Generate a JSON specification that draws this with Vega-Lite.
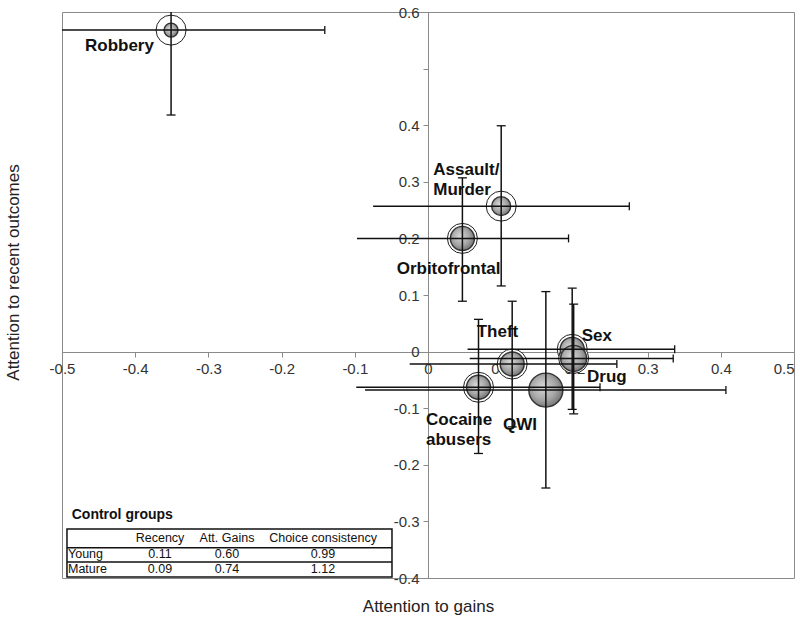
{
  "$schema": "https://vega.github.io/schema/vega-lite/v6.json",
  "width": 732,
  "height": 566,
  "autosize": {"type": "none"},
  "padding": {"left": 62, "top": 12, "right": 6, "bottom": 52},
  "background": "white",
  "config": {
    "font": "Liberation Sans",
    "view": {"stroke": "#8a8a8a", "strokeWidth": 1},
    "axis": {"grid": false}
  },
  "datasets": {
    "points": [
      {"name": "Robbery", "x": -0.351, "y": 0.568, "xlo": -0.561, "xhi": -0.141, "ylo": 0.418, "yhi": 0.718, "bubble": 14},
      {"name": "Assault/Murder", "x": 0.100, "y": 0.257, "xlo": -0.075, "xhi": 0.275, "ylo": 0.116, "yhi": 0.399, "bubble": 19},
      {"name": "Orbitofrontal", "x": 0.047, "y": 0.200, "xlo": -0.097, "xhi": 0.192, "ylo": 0.089, "yhi": 0.307, "bubble": 24},
      {"name": "Theft", "x": 0.115, "y": -0.022, "xlo": -0.025, "xhi": 0.258, "ylo": -0.133, "yhi": 0.089, "bubble": 24},
      {"name": "Sex", "x": 0.197, "y": 0.004, "xlo": 0.054, "xhi": 0.337, "ylo": -0.102, "yhi": 0.112, "bubble": 24},
      {"name": "Drug", "x": 0.199, "y": -0.012, "xlo": 0.057, "xhi": 0.335, "ylo": -0.110, "yhi": 0.084, "bubble": 26},
      {"name": "Cocaine abusers", "x": 0.069, "y": -0.063, "xlo": -0.098, "xhi": 0.235, "ylo": -0.180, "yhi": 0.057, "bubble": 24},
      {"name": "QWI", "x": 0.161, "y": -0.068, "xlo": -0.086, "xhi": 0.407, "ylo": -0.241, "yhi": 0.106, "bubble": 34}
    ],
    "labels": [
      {"label": "Robbery", "lx": -0.4686, "ly": 0.5398},
      {"label": "Assault/", "lx": 0.0072, "ly": 0.3216},
      {"label": "Murder", "lx": 0.0072, "ly": 0.2862},
      {"label": "Orbitofrontal", "lx": -0.0428, "ly": 0.1464},
      {"label": "Theft", "lx": 0.0665, "ly": 0.0342},
      {"label": "Sex", "lx": 0.2100, "ly": 0.0283},
      {"label": "Drug", "lx": 0.2172, "ly": -0.0455},
      {"label": "Cocaine", "lx": -0.0027, "ly": -0.1209},
      {"label": "abusers", "lx": -0.0027, "ly": -0.1563},
      {"label": "QWI", "lx": 0.1025, "ly": -0.1297}
    ],
    "tableText": [
      {"kind": "title", "text": "Control groups", "tx": -0.4867, "ty": -0.289},
      {"kind": "cell", "text": "Recency", "tx": -0.3661, "ty": -0.3287},
      {"kind": "cell", "text": "Att. Gains", "tx": -0.2746, "ty": -0.3287},
      {"kind": "cell", "text": "Choice consistency", "tx": -0.1434, "ty": -0.3287},
      {"kind": "rowname", "text": "Young", "tx": -0.4918, "ty": -0.3570},
      {"kind": "cell", "text": "0.11", "tx": -0.3661, "ty": -0.3570},
      {"kind": "cell", "text": "0.60", "tx": -0.2746, "ty": -0.3570},
      {"kind": "cell", "text": "0.99", "tx": -0.1434, "ty": -0.3570},
      {"kind": "rowname", "text": "Mature", "tx": -0.4918, "ty": -0.3846},
      {"kind": "cell", "text": "0.09", "tx": -0.3661, "ty": -0.3846},
      {"kind": "cell", "text": "0.74", "tx": -0.2746, "ty": -0.3846},
      {"kind": "cell", "text": "1.12", "tx": -0.1434, "ty": -0.3846}
    ],
    "tableBox": [
      {"bx1": -0.4932, "bx2": -0.0492, "by1": -0.3133, "by2": -0.3982}
    ],
    "tableLines": [
      {"rx1": -0.4932, "rx2": -0.0492, "ry": -0.3464},
      {"rx1": -0.4932, "rx2": -0.0492, "ry": -0.3717}
    ]
  },
  "layer": [
    {
      "data": {"name": "points"},
      "transform": [{"filter": "datum.name !== 'QWI'"}],
      "mark": {"type": "point", "shape": "circle", "filled": true, "fill": "white", "stroke": "#222", "strokeWidth": 1, "size": 900, "opacity": 1},
      "encoding": {
        "x": {
          "field": "x", "type": "quantitative",
          "scale": {"domain": [-0.5, 0.5], "nice": false, "zero": false},
          "axis": {
            "orient": "bottom", "offset": -226,
            "values": [-0.5, -0.4, -0.3, -0.2, -0.1, 0, 0.1, 0.2, 0.3, 0.4, 0.5],
            "labelExpr": "'' + round(datum.value*10)/10",
            "labelAlign": {"condition": {"test": "datum.value >= 0.45", "value": "right"}, "value": "center"},
            "labelFontSize": 15, "labelColor": "#333", "labelPadding": 4,
            "labelFlush": false, "labelOverlap": false, "labelBound": false,
            "tickSize": 5, "tickColor": "#8a8a8a", "domainColor": "#8a8a8a",
            "title": "Attention to gains", "titleFontSize": 17, "titleFontWeight": "normal",
            "titleColor": "#222", "titleY": 254, "titleBaseline": "middle", "grid": false
          }
        },
        "y": {
          "field": "y", "type": "quantitative",
          "scale": {"domain": [-0.4, 0.6], "nice": false, "zero": false},
          "axis": {
            "orient": "left", "offset": -366,
            "values": [-0.4, -0.3, -0.2, -0.1, 0, 0.1, 0.2, 0.3, 0.4, 0.5, 0.6],
            "labelExpr": "abs(datum.value - 0.5) < 0.01 ? '' : '' + round(datum.value*10)/10",
            "labelFontSize": 15, "labelColor": "#333", "labelPadding": 4,
            "labelFlush": false, "labelOverlap": false, "labelBound": false,
            "tickSize": 5, "tickColor": "#8a8a8a", "domainColor": "#8a8a8a",
            "title": "Attention to recent outcomes", "titleFontSize": 17, "titleFontWeight": "normal",
            "titleColor": "#222", "titleX": -415, "titleY": 260, "titleAngle": -90,
            "titleAlign": "center", "titleBaseline": "middle", "grid": false
          }
        }
      }
    },
    {
      "data": {"name": "points"},
      "mark": {
        "type": "point", "shape": "circle", "filled": true, "opacity": 1,
        "fill": {
          "gradient": "radial", "x1": 0.4, "y1": 0.4, "r1": 0, "x2": 0.45, "y2": 0.45, "r2": 0.6,
          "stops": [
            {"offset": 0, "color": "#d8d8d8"},
            {"offset": 0.6, "color": "#a6a6a6"},
            {"offset": 1, "color": "#6e6e6e"}
          ]
        },
        "stroke": "#333", "strokeWidth": 1.4
      },
      "encoding": {
        "x": {"field": "x", "type": "quantitative", "scale": {"domain": [-0.5, 0.5], "nice": false, "zero": false}},
        "y": {"field": "y", "type": "quantitative", "scale": {"domain": [-0.4, 0.6], "nice": false, "zero": false}},
        "size": {"field": "bubble", "type": "quantitative", "scale": {"type": "pow", "exponent": 2, "domain": [0, 40], "range": [0, 1600]}, "legend": null}
      }
    },
    {
      "data": {"name": "labels"},
      "mark": {"type": "text", "align": "left", "baseline": "middle", "fontSize": 17, "fontWeight": "bold", "color": "#111"},
      "encoding": {
        "x": {"field": "lx", "type": "quantitative", "scale": {"domain": [-0.5, 0.5], "nice": false, "zero": false}},
        "y": {"field": "ly", "type": "quantitative", "scale": {"domain": [-0.4, 0.6], "nice": false, "zero": false}},
        "text": {"field": "label"}
      }
    },
    {
      "data": {"name": "points"},
      "mark": {"type": "rule", "color": "#111", "strokeWidth": 1.5, "clip": true},
      "encoding": {
        "x": {"field": "xlo", "type": "quantitative", "scale": {"domain": [-0.5, 0.5], "nice": false, "zero": false}},
        "x2": {"field": "xhi"},
        "y": {"field": "y", "type": "quantitative", "scale": {"domain": [-0.4, 0.6], "nice": false, "zero": false}}
      }
    },
    {
      "data": {"name": "points"},
      "mark": {"type": "rule", "color": "#111", "strokeWidth": 1.5, "clip": true},
      "encoding": {
        "x": {"field": "x", "type": "quantitative", "scale": {"domain": [-0.5, 0.5], "nice": false, "zero": false}},
        "y": {"field": "ylo", "type": "quantitative", "scale": {"domain": [-0.4, 0.6], "nice": false, "zero": false}},
        "y2": {"field": "yhi"}
      }
    },
    {
      "data": {"name": "points"},
      "mark": {"type": "tick", "orient": "vertical", "size": 8, "thickness": 1.3, "color": "#111", "opacity": 1, "clip": true},
      "encoding": {
        "x": {"field": "xhi", "type": "quantitative", "scale": {"domain": [-0.5, 0.5], "nice": false, "zero": false}},
        "y": {"field": "y", "type": "quantitative", "scale": {"domain": [-0.4, 0.6], "nice": false, "zero": false}}
      }
    },
    {
      "data": {"name": "points"},
      "mark": {"type": "tick", "orient": "horizontal", "size": 9, "thickness": 1.3, "color": "#111", "opacity": 1, "clip": true},
      "encoding": {
        "x": {"field": "x", "type": "quantitative", "scale": {"domain": [-0.5, 0.5], "nice": false, "zero": false}},
        "y": {"field": "ylo", "type": "quantitative", "scale": {"domain": [-0.4, 0.6], "nice": false, "zero": false}}
      }
    },
    {
      "data": {"name": "points"},
      "mark": {"type": "tick", "orient": "horizontal", "size": 9, "thickness": 1.3, "color": "#111", "opacity": 1, "clip": true},
      "encoding": {
        "x": {"field": "x", "type": "quantitative", "scale": {"domain": [-0.5, 0.5], "nice": false, "zero": false}},
        "y": {"field": "yhi", "type": "quantitative", "scale": {"domain": [-0.4, 0.6], "nice": false, "zero": false}}
      }
    },
    {
      "data": {"name": "tableBox"},
      "mark": {"type": "rect", "fill": "white", "stroke": "#111", "strokeWidth": 1.5},
      "encoding": {
        "x": {"field": "bx1", "type": "quantitative", "scale": {"domain": [-0.5, 0.5], "nice": false, "zero": false}},
        "x2": {"field": "bx2"},
        "y": {"field": "by1", "type": "quantitative", "scale": {"domain": [-0.4, 0.6], "nice": false, "zero": false}},
        "y2": {"field": "by2"}
      }
    },
    {
      "data": {"name": "tableLines"},
      "mark": {"type": "rule", "color": "#111", "strokeWidth": 1.5},
      "encoding": {
        "x": {"field": "rx1", "type": "quantitative", "scale": {"domain": [-0.5, 0.5], "nice": false, "zero": false}},
        "x2": {"field": "rx2"},
        "y": {"field": "ry", "type": "quantitative", "scale": {"domain": [-0.4, 0.6], "nice": false, "zero": false}}
      }
    },
    {
      "data": {"name": "tableText"},
      "transform": [{"filter": "datum.kind === 'cell'"}],
      "mark": {"type": "text", "align": "center", "baseline": "middle", "fontSize": 12.5, "color": "#111"},
      "encoding": {
        "x": {"field": "tx", "type": "quantitative", "scale": {"domain": [-0.5, 0.5], "nice": false, "zero": false}},
        "y": {"field": "ty", "type": "quantitative", "scale": {"domain": [-0.4, 0.6], "nice": false, "zero": false}},
        "text": {"field": "text"}
      }
    },
    {
      "data": {"name": "tableText"},
      "transform": [{"filter": "datum.kind === 'rowname'"}],
      "mark": {"type": "text", "align": "left", "baseline": "middle", "fontSize": 12.5, "color": "#111"},
      "encoding": {
        "x": {"field": "tx", "type": "quantitative", "scale": {"domain": [-0.5, 0.5], "nice": false, "zero": false}},
        "y": {"field": "ty", "type": "quantitative", "scale": {"domain": [-0.4, 0.6], "nice": false, "zero": false}},
        "text": {"field": "text"}
      }
    },
    {
      "data": {"name": "tableText"},
      "transform": [{"filter": "datum.kind === 'title'"}],
      "mark": {"type": "text", "align": "left", "baseline": "middle", "fontSize": 14, "fontWeight": "bold", "color": "#111"},
      "encoding": {
        "x": {"field": "tx", "type": "quantitative", "scale": {"domain": [-0.5, 0.5], "nice": false, "zero": false}},
        "y": {"field": "ty", "type": "quantitative", "scale": {"domain": [-0.4, 0.6], "nice": false, "zero": false}},
        "text": {"field": "text"}
      }
    }
  ]
}
